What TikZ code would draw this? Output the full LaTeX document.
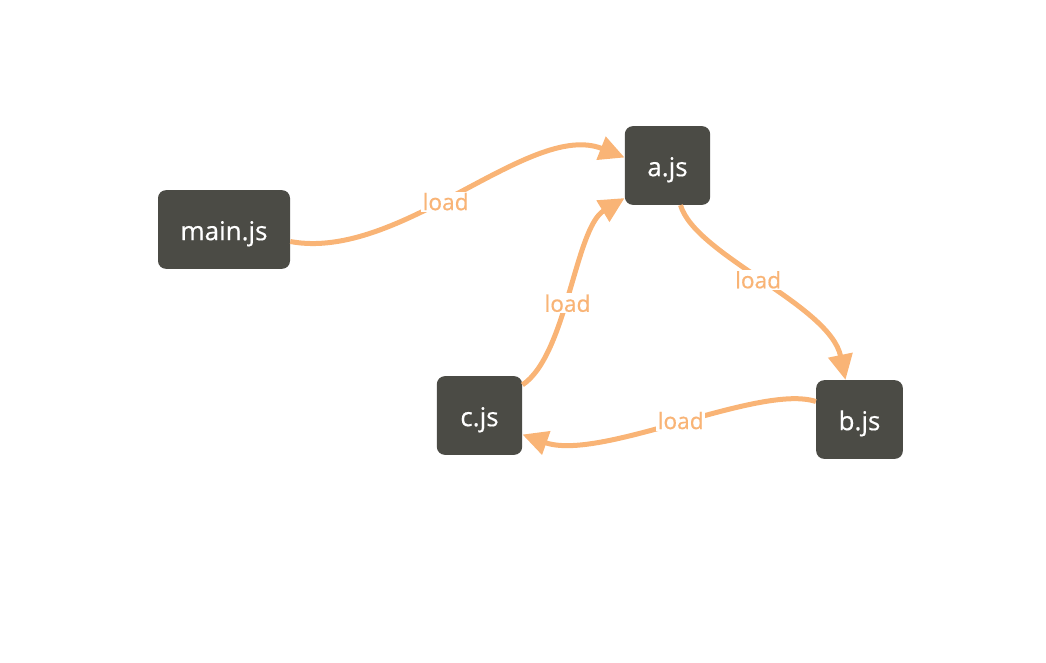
\documentclass[tikz,border=0pt]{standalone}
\usepackage{fontspec}
\setmainfont{Open Sans}
\newfontfamily\medfont{Open Sans}[FakeBold=0.5]
\usetikzlibrary{arrows.meta,calc}
\definecolor{boxc}{HTML}{4B4B45}
\definecolor{edgec}{HTML}{F9B476}
\tikzset{
  modbox/.style={fill=boxc, rounded corners=6pt, text=white, font=\medfont\fontsize{19.5}{22}\selectfont, minimum height=59pt, inner sep=0pt, text height=16.5pt, text depth=0.5pt},
  dep/.style={draw=edgec, line width=3.75pt, -{Triangle[length=19pt,width=18pt]}},
  lbl/.style={fill=white, text=edgec, font=\medfont\fontsize{17}{19}\selectfont, inner sep=1pt}
}
\begin{document}
\begin{tikzpicture}[x=0.75pt,y=-0.75pt]
\useasboundingbox (0,0) rectangle (1046,662);
\node[modbox, minimum width=99pt] (m) at (224,229.5) {main.js};
\node[modbox, minimum width=64pt] (a) at (667.5,165.5) {a.js};
\node[modbox, minimum width=65pt] (b) at (859.5,419.5) {b.js};
\node[modbox, minimum width=64pt] (c) at (479.5,415.5) {c.js};
\draw[dep] ($(m.east)+(0,12)$) .. controls (400,262) and (530,120) .. node[lbl, pos=0.45] {load} ($(a.west)+(0,-8)$);
\draw[dep] ($(a.south)+(13,0)$) .. controls (695,255) and (830,305) .. node[lbl, pos=0.48] {load} ($(b.north)+(-14,0)$);
\draw[dep] ($(b.west)+(0,-18)$) .. controls (760,383) and (600,462) .. node[lbl, pos=0.49] {load} ($(c.east)+(0,19)$);
\draw[dep] ($(c.north east)+(0,9)$) .. controls (567,355) and (575,228) .. node[lbl, pos=0.45] {load} ($(a.south west)+(0,-7)$);
\end{tikzpicture}
\end{document}
